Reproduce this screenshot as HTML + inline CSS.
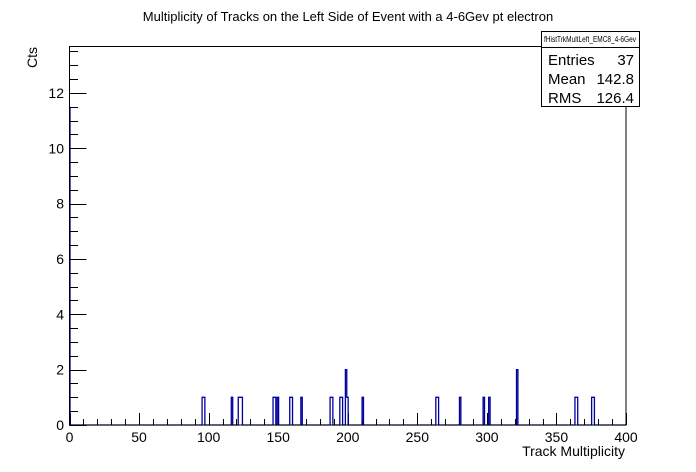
<!DOCTYPE html>
<html><head><meta charset="utf-8"><style>
body{margin:0;background:#fff;}
svg{display:block;font-family:"Liberation Sans",Arial,sans-serif;}
</style></head><body>
<svg id="c" width="696" height="472" viewBox="0 0 696 472">
<rect width="696" height="472" fill="#fff"/>
<text x="348" y="21" font-size="13" text-anchor="middle">Multiplicity of Tracks on the Left Side of Event with a 4-6Gev pt electron</text>
<g id="axes"></g>
<path id="hist" fill="none" stroke="#00009c" stroke-width="1.3"/>
<rect x="69.5" y="46.5" width="556.5" height="378.5" fill="none" stroke="#000"/>
<text x="625" y="456" font-size="14" text-anchor="end">Track Multiplicity</text>
<text transform="translate(37,68) rotate(-90)" font-size="14">Cts</text>
<g>
<rect x="541.5" y="31.5" width="98" height="75" fill="#fff" stroke="#000"/>
<line x1="541.5" y1="47.5" x2="639.5" y2="47.5" stroke="#000"/>
<text x="590" y="42" font-size="8" text-anchor="middle" textLength="92" lengthAdjust="spacingAndGlyphs">fHistTrkMultLeft_EMC8_4-6Gev</text>
<text x="548" y="65" font-size="15">Entries</text><text x="634" y="65" font-size="15" text-anchor="end">37</text>
<text x="548" y="84" font-size="15">Mean</text><text x="634" y="84" font-size="15" text-anchor="end">142.8</text>
<text x="548" y="103" font-size="15">RMS</text><text x="634" y="103" font-size="15" text-anchor="end">126.4</text>
</g>
</svg>
<script>
const binCenters=[95,96,116,121,122,123,146,147,149,158,159,166,187,188,194,195,198,199,210,263,264,280,297,301,321,363,364,375,376];
const binCounts=[1,1,1,1,1,1,1,1,1,1,1,1,1,1,1,1,2,1,1,1,1,1,1,1,2,1,1,1,1];
const xTickLabels=[0,50,100,150,200,250,300,350,400];
const yTickLabels=[0,2,4,6,8,10,12];
const X0=69.5,X1=626,Y0=425,YT=46.5,XMAX=400,YMAX=13.68;
const sx=v=>X0+(v/XMAX)*(X1-X0);
const sy=v=>Y0-(v/YMAX)*(Y0-YT);
const ns="http://www.w3.org/2000/svg";
const ax=document.getElementById('axes');
function ln(x1,y1,x2,y2,name){const l=document.createElementNS(ns,'line');l.setAttribute('x1',x1);l.setAttribute('y1',y1);l.setAttribute('x2',x2);l.setAttribute('y2',y2);l.setAttribute('stroke','#000');


ax.appendChild(l);}
function tx(x,y,s,anchor,name){const t=document.createElementNS(ns,'text');t.setAttribute('x',x);t.setAttribute('y',y);t.setAttribute('font-size','14');t.setAttribute('text-anchor',anchor);t.textContent=s;


ax.appendChild(t);}
for(let v=0;v<=XMAX;v+=10){const x=Math.round(sx(v))+0.5;ln(x,Y0,x,Y0-(v%50===0?12:6),'x-tick');}
xTickLabels.forEach(v=>tx(sx(v),442,String(v),'middle','x-tick-label'));
for(let v=0;v<=13.5;v+=0.5){const y=Math.round(sy(v))+0.5;ln(X0,y,X0+(v%2===0?17:8.5),y,'y-tick');}
yTickLabels.forEach(v=>tx(64,sy(v)+5,String(v),'end','y-tick-label'));
let d='M'+(X0+0.5)+' '+sy(11.5)+' L'+(X0+0.5)+' '+Y0;
const m={};binCenters.forEach((b,i)=>m[b]=binCounts[i]);
let prev=0;
for(let b=0;b<=XMAX;b++){const c=m[b]||0;if(c!==prev){const x=sx(b+0.3);d+=' L'+x+' '+sy(prev)+' L'+x+' '+sy(c);prev=c;}}
d+=' L'+sx(XMAX)+' '+sy(0);
document.getElementById('hist').setAttribute('d',d);
</script>
</body></html>
